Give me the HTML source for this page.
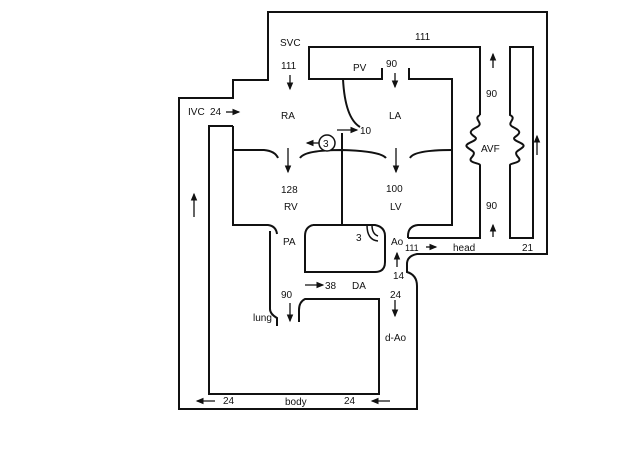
<!DOCTYPE html>
<html><head><style>html,body{margin:0;padding:0;background:#fff}svg{display:block}text{font-family:"Liberation Sans",sans-serif;font-size:10px;fill:#111}</style></head><body>
<svg width="631" height="474" viewBox="0 0 631 474" xmlns="http://www.w3.org/2000/svg">
<defs><marker id="a" markerWidth="6" markerHeight="6" refX="5" refY="3" orient="auto"><path d="M0,0.5 L6,3 L0,5.5z" fill="#111"/></marker></defs>
<g fill="none" stroke="#111" stroke-width="2">
<path d="M179,409 L179,98 L233,98 L233,80 L268,80 L268,12 L547,12 L547,254 L417,254 Q407,256 407,264 L407,272 Q417,275 417,286 L417,409 Z"/>
<path d="M233,126 L209,126 L209,394 L379,394 L379,299 L305,299 Q299,302 299,310 L299,322"/>
<path d="M233,126 L233,225 L268,225 Q276,226 277,234 M270,231 L270,309 Q270,314 277,318 L277,326"/>
<path d="M313,225 Q305,227 305,236 L305,272 L375,272 Q385,272 385,262 L385,236 Q385,227 375,225 L313,225"/>
<path d="M342,133 L342,225"/>
<path d="M382,68 L382,79 L309,79 L309,47 L480,47 L480,115"/>
<path d="M409,68 L409,79 L452,79 L452,225 L418,225 Q408,226 408,236 L408,238"/>
<path d="M343,79 Q345,118 360,127"/>
<path d="M480,115 c-8,4 5,8 -3,12 c-8,4 -8,6 -2,10 c5,4 -12,6 -8,10 c4,4 10,4 5,10 c-6,6 8,6 8,8 L480,238 L408,238"/>
<path d="M510,115 c8,4 -5,8 3,12 c8,4 8,6 2,10 c-5,4 12,6 8,10 c-4,4 -10,4 -5,10 c6,6 -8,6 -8,8 L510,238 L533,238 L533,47 L510,47 Z"/>
<path d="M233,150 L264,150 Q275,151 278,158"/>
<path d="M300,158 Q305,150 342,150 Q380,151 386,158"/>
<path d="M410,158 Q414,150 452,150"/>
<path d="M367,225 Q367,240 378,241" stroke-width="1.5"/>
<path d="M372,225 Q372,234 378,236" stroke-width="1.5"/>
</g>
<g stroke="#111" stroke-width="1.3" marker-end="url(#a)">
<line x1="290" y1="75" x2="290" y2="89"/>
<line x1="395" y1="73" x2="395" y2="87"/>
<line x1="226" y1="112" x2="239" y2="112"/>
<line x1="337" y1="130" x2="357" y2="130"/>
<line x1="320" y1="143" x2="307" y2="143"/>
<line x1="288" y1="148" x2="288" y2="172"/>
<line x1="396" y1="148" x2="396" y2="172"/>
<line x1="194" y1="217" x2="194" y2="194"/>
<line x1="493" y1="68" x2="493" y2="54"/>
<line x1="493" y1="237" x2="493" y2="225"/>
<line x1="537" y1="155" x2="537" y2="136"/>
<line x1="426" y1="247" x2="436" y2="247"/>
<line x1="397" y1="267" x2="397" y2="253"/>
<line x1="305" y1="285" x2="323" y2="285"/>
<line x1="290" y1="303" x2="290" y2="321"/>
<line x1="395" y1="300" x2="395" y2="316"/>
<line x1="215" y1="401" x2="197" y2="401"/>
<line x1="390" y1="401" x2="372" y2="401"/>
</g>
<circle cx="327" cy="143" r="8" fill="#fff" stroke="#111" stroke-width="1.5"/>
<text x="323" y="147">3</text>
<text x="280" y="46">SVC</text>
<text x="281" y="69">111</text>
<text x="415" y="40">111</text>
<text x="353" y="71">PV</text>
<text x="386" y="67">90</text>
<text x="188" y="115">IVC</text>
<text x="210" y="115">24</text>
<text x="281" y="119">RA</text>
<text x="389" y="119">LA</text>
<text x="360" y="134">10</text>
<text x="486" y="97">90</text>
<text x="481" y="152">AVF</text>
<text x="281" y="193">128</text>
<text x="386" y="192">100</text>
<text x="284" y="210">RV</text>
<text x="390" y="210">LV</text>
<text x="486" y="209">90</text>
<text x="283" y="245">PA</text>
<text x="356" y="241">3</text>
<text x="391" y="245">Ao</text>
<text x="405" y="251" style="font-size:9px">111</text>
<text x="453" y="251">head</text>
<text x="522" y="251">21</text>
<text x="393" y="279">14</text>
<text x="325" y="289">38</text>
<text x="352" y="289">DA</text>
<text x="281" y="298">90</text>
<text x="390" y="298">24</text>
<text x="253" y="321">lung</text>
<text x="385" y="341">d-Ao</text>
<text x="223" y="404">24</text>
<text x="285" y="405">body</text>
<text x="344" y="404">24</text>
</svg>
</body></html>
